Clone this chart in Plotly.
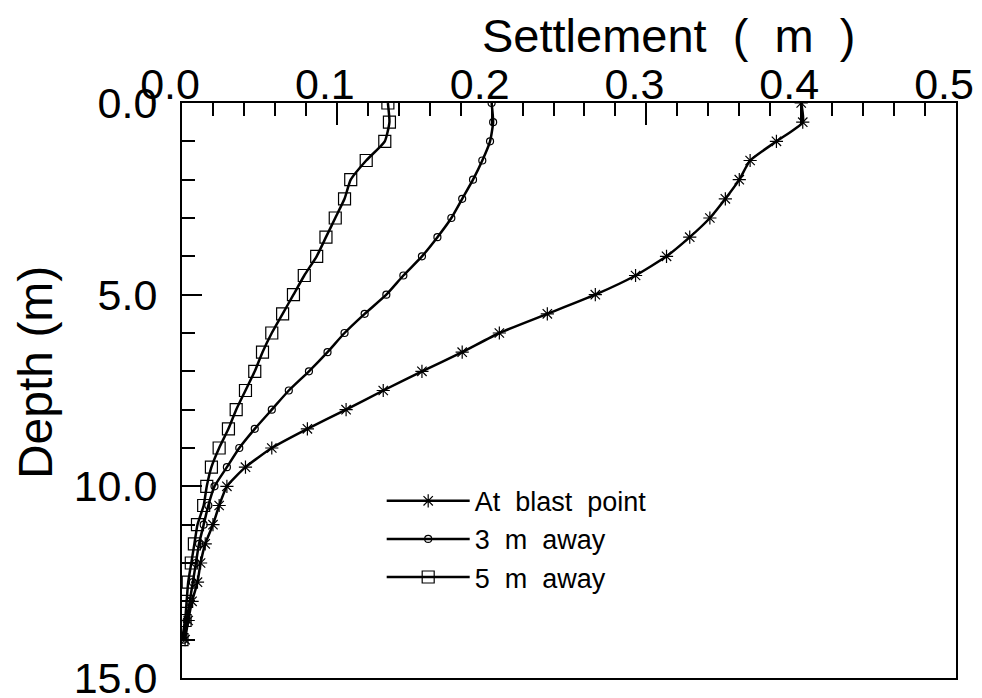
import plotly.graph_objects as go

depth = [0.0, 0.5, 1.0, 1.5, 2.0, 2.5, 3.0, 3.5, 4.0, 4.5, 5.0, 5.5, 6.0, 6.5, 7.0,
         7.5, 8.0, 8.5, 9.0, 9.5, 10.0, 10.5, 11.0, 11.5, 12.0, 12.5, 13.0, 13.5, 14.0]

at_blast = [0.400, 0.401, 0.384, 0.367, 0.360, 0.351, 0.341, 0.328, 0.313, 0.293,
            0.267, 0.236, 0.205, 0.181, 0.155, 0.130, 0.106, 0.081, 0.058, 0.041,
            0.029, 0.024, 0.020, 0.015, 0.012, 0.010, 0.0065, 0.004, 0.002]

away_3m = [0.200, 0.201, 0.199, 0.194, 0.188, 0.181, 0.174, 0.165, 0.155, 0.143,
           0.132, 0.118, 0.105, 0.094, 0.082, 0.069, 0.058, 0.047, 0.037, 0.029,
           0.021, 0.017, 0.014, 0.011, 0.009, 0.007, 0.005, 0.003, 0.001]

away_5m = [0.133, 0.134, 0.131, 0.119, 0.109, 0.105, 0.099, 0.093, 0.087, 0.079,
           0.072, 0.065, 0.058, 0.052, 0.047, 0.041, 0.035, 0.030, 0.024, 0.019,
           0.016, 0.014, 0.010, 0.008, 0.006, 0.004, 0.003, 0.002, 0.000]

series_names = ["At  blast  point", "3  m  away", "5  m  away"]
x_ticks = [0.0, 0.1, 0.2, 0.3, 0.4, 0.5]
x_ticklabels = ["0.0", "0.1", "0.2", "0.3", "0.4", "0.5"]
y_ticks = [0.0, 5.0, 10.0, 15.0]
y_ticklabels = ["0.0", "5.0", "10.0", "15.0"]

FONT = "Liberation Sans"
NB = "\u00a0\u00a0"

fig = go.Figure()
specs = [
    (at_blast, "asterisk-open", 11),
    (away_3m, "circle-open", 7),
    (away_5m, "square-open", 12),
]
for (vals, sym, sz), name in zip(specs, series_names):
    fig.add_trace(go.Scatter(
        x=vals, y=depth, name=name, mode="lines+markers",
        line=dict(color="black", width=2.5, shape="spline", smoothing=0.5),
        marker=dict(symbol=sym, size=sz, color="black",
                    line=dict(color="black", width=1.2)),
    ))

fig.update_layout(
    width=982, height=698,
    margin=dict(l=182, r=26, t=103, b=20, autoexpand=False),
    paper_bgcolor="white", plot_bgcolor="white",
    font=dict(family=FONT, color="black"),
    showlegend=True,
    legend=dict(x=0.258, y=0.35, xanchor="left", yanchor="top",
                font=dict(size=27, family=FONT), bgcolor="rgba(0,0,0,0)",
                tracegroupgap=0, itemwidth=83),
    xaxis=dict(
        side="top", range=[0, 0.5], tickvals=x_ticks,
        ticktext=[t + NB for t in x_ticklabels],
        ticks="inside", ticklen=22, tickwidth=2, tickcolor="black",
        showline=True, linecolor="black", linewidth=2, mirror=True,
        showgrid=False, zeroline=False, automargin=False,
        tickfont=dict(size=43, family=FONT),
        ticklabelstandoff=-15, ticklabeloverflow="allow",
        minor=dict(dtick=0.02, ticks="inside", ticklen=13, tickwidth=2,
                   tickcolor="black", showgrid=False),
    ),
    yaxis=dict(
        range=[15, 0], tickvals=y_ticks, ticktext=y_ticklabels,
        ticks="inside", ticklen=20, tickwidth=2, tickcolor="black",
        showline=True, linecolor="black", linewidth=2, mirror=True,
        showgrid=False, zeroline=False, automargin=False,
        tickfont=dict(size=43, family=FONT),
        ticklabelstandoff=14, ticklabeloverflow="allow",
        minor=dict(dtick=1, ticks="inside", ticklen=13, tickwidth=2,
                   tickcolor="black", showgrid=False),
    ),
    annotations=[
        dict(text="Settlement  (  m  )", xref="paper", yref="paper",
             x=0.629, y=1.118, xanchor="center", yanchor="middle",
             showarrow=False, font=dict(size=47, family=FONT)),
        dict(text="Depth (m)", xref="paper", yref="paper", textangle=-90,
             x=-0.19, y=0.532, xanchor="center", yanchor="middle",
             showarrow=False, font=dict(size=48, family=FONT)),
    ],
)

fig.write_html("out.html")
